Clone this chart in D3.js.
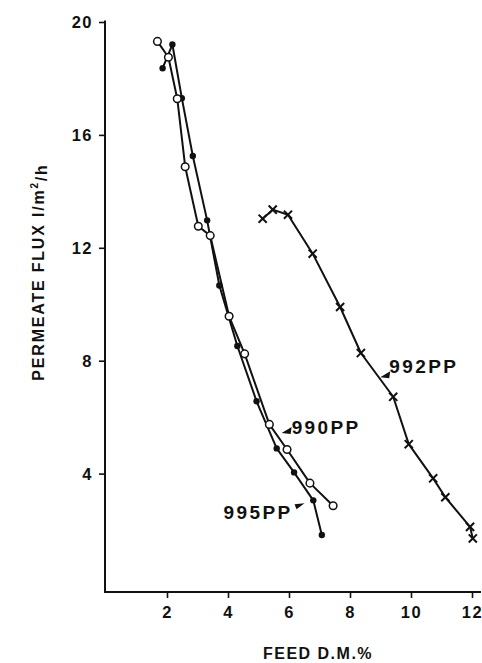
<!DOCTYPE html>
<html>
<head>
<meta charset="utf-8">
<script src="https://cdn.jsdelivr.net/npm/d3@7"></script>
<style>
    body { margin: 0; background: #fff; }
    text { font-family: "Liberation Sans", Arial, sans-serif; font-weight: bold; fill: #111; }
</style>
</head>
<body>
<div id="main"></div>
<script>
// feed dry matter (%) vs permeate flux (l/m2/h)
const x995 = [1.84, 2.16, 2.47, 2.83, 3.30, 3.70, 4.29, 4.92, 5.58, 6.15, 6.78, 7.06];
const y995 = [18.38, 19.22, 17.32, 15.27, 12.99, 10.68, 8.54, 6.58, 4.91, 4.06, 3.07, 1.84];

const x990 = [1.67, 2.03, 2.32, 2.58, 3.01, 3.40, 4.02, 4.53, 5.34, 5.92, 6.67, 7.43];
const y990 = [19.33, 18.77, 17.30, 14.89, 12.78, 12.45, 9.59, 8.26, 5.76, 4.87, 3.68, 2.88];

const x992 = [5.12, 5.45, 5.95, 6.76, 7.66, 8.34, 9.40, 9.91, 10.71, 11.11, 11.92, 12.01];
const y992 = [13.05, 13.37, 13.19, 11.81, 9.92, 8.29, 6.74, 5.06, 3.85, 3.18, 2.13, 1.72];

const xTicks = [2, 4, 6, 8, 10, 12];
const yTicks = [4, 8, 12, 16, 20];

const seriesNames = ["995PP", "990PP", "992PP"];

let width = 482, height = 663;
let svg = d3.select("#main").append("svg")
    .attr("width", width)
    .attr("height", height);

let scaleX = d3.scaleLinear().domain([0, 12]).range([106.5, 472.5]);
let scaleY = d3.scaleLinear().domain([0, 20]).range([587, 22.5]);

const axisLeftX = 105;
const axisBottomY = 592;

// label anchors (data units) and arrow placement
const labelPos = {
    "990PP": {x: 6.07, y: 5.67, anchor: "start", tip: [-10, 6], dir: "dl"},
    "995PP": {x: 6.10, y: 2.65, anchor: "end", tip: [12, -9], dir: "ur"},
    "992PP": {x: 9.27, y: 7.82, anchor: "start", tip: [-9, 11], dir: "dl"}
};

function zip(xs, ys) {
    return xs.map(function (d, i) { return [d, ys[i]]; });
}

const data = {
    "995PP": zip(x995, y995),
    "990PP": zip(x990, y990),
    "992PP": zip(x992, y992)
};

function draw() {
    // y axis
    let gy = svg.append("g").attr("transform", "translate(" + axisLeftX + ",0)");
    gy.append("line")
        .attr("x1", 0).attr("x2", 0)
        .attr("y1", scaleY(20) - 2).attr("y2", axisBottomY)
        .attr("stroke", "#111").attr("stroke-width", 2);
    gy.selectAll(".ytick").data(yTicks).enter().append("line")
        .attr("x1", -6).attr("x2", 0)
        .attr("y1", function (d) { return scaleY(d); })
        .attr("y2", function (d) { return scaleY(d); })
        .attr("stroke", "#111").attr("stroke-width", 1.6);
    gy.selectAll(".ylab").data(yTicks).enter().append("text")
        .attr("x", -12)
        .attr("y", function (d) { return scaleY(d); })
        .attr("dy", "0.36em")
        .attr("text-anchor", "end")
        .attr("font-size", 16.5)
        .attr("letter-spacing", 1.5)
        .text(function (d) { return d; });

    // x axis
    let gx = svg.append("g").attr("transform", "translate(0," + axisBottomY + ")");
    gx.append("line")
        .attr("x1", axisLeftX - 1).attr("x2", 481)
        .attr("y1", 0).attr("y2", 0)
        .attr("stroke", "#111").attr("stroke-width", 2);
    gx.selectAll(".xtick").data(xTicks).enter().append("line")
        .attr("x1", function (d) { return scaleX(d); })
        .attr("x2", function (d) { return scaleX(d); })
        .attr("y1", 0).attr("y2", 6)
        .attr("stroke", "#111").attr("stroke-width", 1.6);
    gx.selectAll(".xlab").data(xTicks).enter().append("text")
        .attr("x", function (d) { return scaleX(d); })
        .attr("y", 20)
        .attr("dy", "0.36em")
        .attr("text-anchor", "middle")
        .attr("font-size", 16.5)
        .attr("letter-spacing", 1.5)
        .text(function (d) { return d; });

    // axis titles
    svg.append("text")
        .attr("x", 318).attr("y", 653)
        .attr("dy", "0.36em")
        .attr("text-anchor", "middle")
        .attr("font-size", 16)
        .attr("letter-spacing", 1.5)
        .text("FEED D.M.%");

    let yt = svg.append("text")
        .attr("transform", "translate(38,272) rotate(-90)")
        .attr("dy", "0.36em")
        .attr("text-anchor", "middle")
        .attr("font-size", 16)
        .attr("letter-spacing", 1.8);
    yt.append("tspan").text("PERMEATE FLUX l/m");
    yt.append("tspan").attr("font-size", 10).attr("dy", "-0.6em").text("2");
    yt.append("tspan").attr("dy", "0.6em").text("/h");

    let line = d3.line()
        .x(function (d) { return scaleX(d[0]); })
        .y(function (d) { return scaleY(d[1]); });

    seriesNames.forEach(function (name) {
        svg.append("path")
            .datum(data[name])
            .attr("fill", "none")
            .attr("stroke", "#111")
            .attr("stroke-width", 2)
            .attr("stroke-linejoin", "round")
            .attr("d", line);
    });

    // markers
    svg.selectAll(".dot995").data(data["995PP"]).enter().append("circle")
        .attr("cx", function (d) { return scaleX(d[0]); })
        .attr("cy", function (d) { return scaleY(d[1]); })
        .attr("r", 3.2)
        .attr("fill", "#111");

    svg.selectAll(".dot990").data(data["990PP"]).enter().append("circle")
        .attr("cx", function (d) { return scaleX(d[0]); })
        .attr("cy", function (d) { return scaleY(d[1]); })
        .attr("r", 3.8)
        .attr("fill", "#fff")
        .attr("stroke", "#111")
        .attr("stroke-width", 1.5);

    svg.selectAll(".dot992").data(data["992PP"]).enter().append("path")
        .attr("transform", function (d) { return "translate(" + scaleX(d[0]) + "," + scaleY(d[1]) + ")"; })
        .attr("d", d3.symbol().type(d3.symbolX).size(45))
        .attr("fill", "none")
        .attr("stroke", "#111")
        .attr("stroke-width", 2);

    // series labels with small arrowheads
    seriesNames.forEach(function (name) {
        let p = labelPos[name];
        let lx = scaleX(p.x), ly = scaleY(p.y);
        svg.append("text")
            .attr("x", lx).attr("y", ly)
            .attr("dy", "0.36em")
            .attr("text-anchor", p.anchor)
            .attr("font-size", 19)
            .attr("letter-spacing", 2.4)
            .text(name);
        let tx = lx + p.tip[0], ty = ly + p.tip[1];
        let pts;
        if (p.dir === "dl") {
            pts = [[tx, ty], [tx + 10, ty - 6], [tx + 9, ty + 1]];
        } else {
            pts = [[tx, ty], [tx - 10, ty + 1], [tx - 8, ty + 6]];
        }
        svg.append("path")
            .attr("d", "M" + pts.map(function (q) { return q.join(","); }).join("L") + "Z")
            .attr("fill", "#111");
    });
}

draw();
</script>
</body>
</html>
